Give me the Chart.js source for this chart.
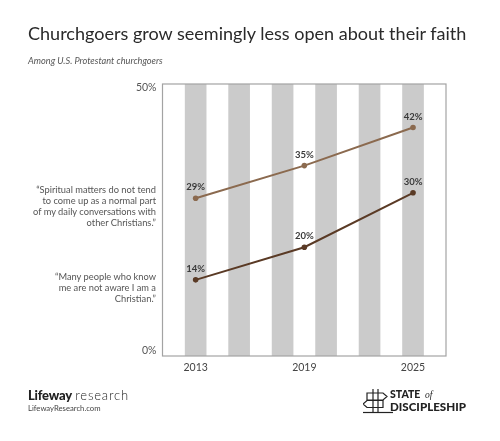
<!DOCTYPE html>
<html><head><meta charset="utf-8">
<script src="https://cdn.jsdelivr.net/npm/chart.js@4"></script>
<style>
html,body{margin:0;padding:0;background:#fff;width:500px;height:441px;overflow:hidden;font-family:Lato,"Open Sans",sans-serif;}
#wrap{position:relative;width:500px;height:441px;}
canvas{position:absolute;left:0;top:0;}
.t{position:absolute;white-space:nowrap;}
#title{left:28px;top:22px;font-size:18.05px;color:#2a2a2a;font-family:Lato,sans-serif;}
#sub{left:28px;top:55px;font-size:9.2px;font-style:italic;color:#555;}
.ann{position:absolute;right:344px;text-align:right;font-size:9.3px;line-height:11px;color:#555;}
#lw{left:28px;top:387px;font-size:13px;color:#222;}
#lw b{font-weight:900;letter-spacing:-0.2px;}
#lw span{font-weight:300;letter-spacing:0.8px;}
#lwu{left:28px;top:403px;font-size:7.7px;color:#444;}
#sod{left:363px;top:387px;}
</style></head>
<body><div id="wrap">
<canvas id="c" width="500" height="441"></canvas>
<div class="t" id="title">Churchgoers grow seemingly less open about their faith</div>
<div class="t" id="sub">Among U.S. Protestant churchgoers</div>
<div class="ann" id="a1" style="top:184px">“Spiritual matters do not tend<br>to come up as a normal part<br>of my daily conversations with<br>other Christians.”</div>
<div class="ann" id="a2" style="top:271px">“Many people who know<br>me are not aware I am a<br>Christian.”</div>
<div class="t" id="lw"><b>Lifeway</b> <span>research</span></div>
<div class="t" id="lwu">LifewayResearch.com</div>
<div class="t" id="sod">
<svg width="110" height="28" viewBox="0 0 110 28">
<g fill="none" stroke="#222" stroke-width="1.2">
<line x1="10" y1="2" x2="10" y2="25"/><line x1="15" y1="2" x2="15" y2="25"/>
<path d="M4 6 H20 L24 9.5 L20 13 H4 Z"/>
<path d="M0 17 L4 13.5 H20 V20.5 H4 Z"/>
<line x1="0" y1="25.5" x2="30" y2="25.5"/>
</g>
<text x="27" y="11" font-family="Lato,sans-serif" font-weight="900" font-size="10.5" fill="#222">STATE</text>
<text x="62" y="11" font-family="serif" font-style="italic" font-size="9.5" fill="#222">of</text>
<text x="27" y="24" font-family="Lato,sans-serif" font-weight="900" font-size="11.6" fill="#222">DISCIPLESHIP</text>
</svg></div>
</div>
<script>
const years = [2013, 2019, 2025];
const spiritualMatters = [29, 35, 42];
const notAware = [14, 20, 30];
const stripeX = [2013, 2015.4, 2017.8, 2020.2, 2022.6, 2025];
const stripeTop = 50;
const yTickValues = [0, 50];
const yTickLabels = ['0%', '50%'];
const xTickValues = [2013, 2019, 2025];

const frame = {
  id: 'frame',
  afterDraw(chart) {
    const {ctx, chartArea: a, scales} = chart;
    ctx.save();
    ctx.strokeStyle = '#a3a3a3';
    ctx.lineWidth = 1.2;
    ctx.strokeRect(a.left, a.top, a.right - a.left, a.bottom - a.top);
    ctx.fillStyle = '#555';
    ctx.font = '10.5px Lato, sans-serif';
    ctx.textAlign = 'right';
    ctx.textBaseline = 'middle';
    yTickValues.forEach((v, i) => {
      const y = scales.y.getPixelForValue(v) + (i === 0 ? -5 : 4);
      ctx.fillText(yTickLabels[i], a.left - 6, y);
    });
    ctx.fillStyle = '#3a3a3a';
    ctx.font = 'bold 9.5px Lato, sans-serif';
    ctx.textAlign = 'center';
    ctx.textBaseline = 'middle';
    [1, 2].forEach(di => {
      const meta = chart.getDatasetMeta(di);
      meta.data.forEach((pt, i) => {
        ctx.fillText(chart.data.datasets[di].data[i].y + '%', pt.x, pt.y - 11);
      });
    });
    ctx.restore();
  }
};

new Chart(document.getElementById('c'), {
  data: {
    datasets: [
      {
        type: 'bar',
        data: stripeX.map(x => ({x, y: stripeTop})),
        backgroundColor: '#cbcbcb',
        barThickness: 21,
        order: 3
      },
      {
        type: 'line',
        data: years.map((x, i) => ({x, y: spiritualMatters[i]})),
        borderColor: '#8b6a4f',
        backgroundColor: '#8b6a4f',
        borderWidth: 2,
        pointRadius: 2.8,
        pointBorderWidth: 0,
        order: 1
      },
      {
        type: 'line',
        data: years.map((x, i) => ({x, y: notAware[i]})),
        borderColor: '#5a3a25',
        backgroundColor: '#5a3a25',
        borderWidth: 2,
        pointRadius: 2.8,
        pointBorderWidth: 0,
        order: 0
      }
    ]
  },
  options: {
    responsive: false,
    animation: false,
    devicePixelRatio: 1,
    layout: {padding: {left: 0, right: 54, top: 84, bottom: 65}},
    plugins: {legend: {display: false}, tooltip: {enabled: false}, title: {display: false}},
    scales: {
      x: {
        type: 'linear',
        min: 2011.17,
        max: 2026.82,
        offset: false,
        grid: {display: false, drawTicks: false},
        border: {display: false},
        afterBuildTicks(s) { s.ticks = xTickValues.map(v => ({value: v})); },
        afterFit(s) { s.height = 20; },
        ticks: {
          color: '#444',
          font: {size: 10.5, family: 'Lato, sans-serif'},
          padding: 5,
          maxRotation: 0,
          callback: v => String(v)
        }
      },
      y: {
        min: 0,
        max: 50,
        grid: {display: false, drawTicks: false},
        border: {display: false},
        afterFit(s) { s.width = 162.5; },
        ticks: {display: false, stepSize: 50}
      }
    }
  },
  plugins: [frame]
});
</script>
</body></html>
